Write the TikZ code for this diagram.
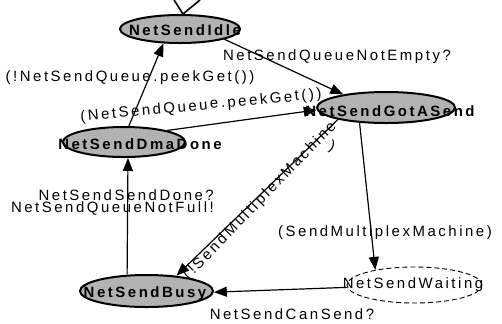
\documentclass[tikz,border=0pt]{standalone}
\usepackage{fontspec}
\setmainfont{Liberation Sans}[LetterSpace=17]
\usetikzlibrary{shapes.geometric,arrows.meta}
\tikzset{
  state/.style={ellipse, draw=black, line width=2bp, fill=black!30, inner sep=0pt},
  waitstate/.style={ellipse, draw=black, line width=0.9bp, dash pattern=on 5bp off 3bp, inner sep=0pt},
  stname/.style={font=\fontsize{15}{15}\selectfont\bfseries, inner sep=0pt},
  plainname/.style={font=\fontsize{15}{15}\selectfont, inner sep=0pt},
  lbl/.style={font=\fontsize{15}{11.5}\selectfont, inner sep=0pt},
  trans/.style={line width=1.2bp, -{Triangle[length=13bp,width=10bp]}},
}
\begin{document}
\begin{tikzpicture}[x=1bp,y=-1bp]
\useasboundingbox (0,0) rectangle (502,323);
% states
\node[state, minimum width=120bp, minimum height=28bp] (idle) at (180,29) {};
\node[state, minimum width=138bp, minimum height=31bp] (got) at (386,107.5) {};
\node[state, minimum width=122bp, minimum height=30bp] (dma) at (124,142) {};
\node[state, minimum width=133bp, minimum height=32bp] (busy) at (146.5,291) {};
\node[waitstate, minimum width=135bp, minimum height=36bp] (wait) at (414.5,285) {};
% initial marker
\coordinate (itip) at (183,14);
\draw[line width=1.6bp] (itip) ++(-9,-14) -- (itip) -- ++(17,-14);
% transitions
\draw[trans] (idle.-13) -- (got.163);
\draw[trans] (dma.73) -- (idle.221);
\draw[trans] (dma.15) -- (got.182);
\draw[trans] (busy.140) -- (dma.-76);
\draw[trans] (got.194) -- (busy.27);
\draw[trans] (got.-150) -- (wait.159);
\draw[trans] (wait.182) -- (busy.-1);
% state names
\node[stname] (idlet) at (185,30) {NetSendIdle};
\node[stname] (gott) at (390,111) {NetSendGotASend};
\node[stname] (dmat) at (140,144) {NetSendDmaDone};
\node[stname] (busyt) at (145,294) {NetSendBusy};
\node[plainname] (waitt) at (413,285) {NetSendWaiting};
% labels
\node[lbl] (l1) at (337,57) {NetSendQueueNotEmpty?};
\node[lbl] (l2) at (130,78) {(!NetSendQueue.peekGet())};
\node[lbl, rotate=5.4] (l3) at (201,106) {(NetSendQueue.peekGet())};
\node[lbl, align=right, anchor=east] (l4) at (214,202.5) {NetSendSendDone?\\NetSendQueueNotFull!};
\node[lbl, rotate=46] (l5) at (260,201) {(!SendMultiplexMachine};
\node[lbl, rotate=-20] (l5b) at (332,147) {)};
\node[lbl] (l6) at (385,233) {(SendMultiplexMachine)};
\node[lbl] (l7) at (292,314) {NetSendCanSend?};
\end{tikzpicture}
\end{document}
